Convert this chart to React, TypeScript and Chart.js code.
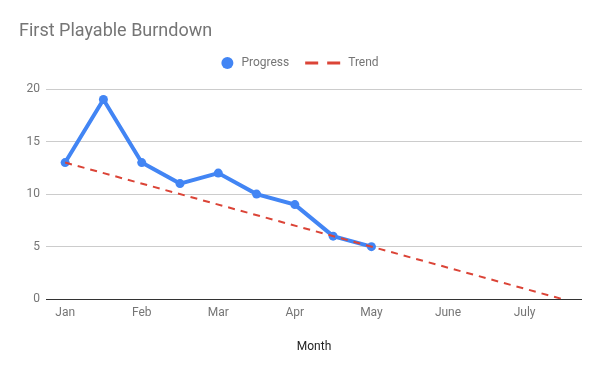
import React, { useEffect, useRef } from "react";
import { Chart, registerables } from "chart.js";

Chart.register(...registerables);

const TITLE = "First Playable Burndown";
const X_TITLE = "Month";
const categories = ["Jan", "", "Feb", "", "Mar", "", "Apr", "", "May", "", "June", "", "July", ""];
const progress = [13, 19, 13, 11, 12, 10, 9, 6, 5];
const trend = [13, null, null, null, null, null, null, null, null, null, null, null, null, 0];
const yTicks = [0, 5, 10, 15, 20];
const seriesNames = ["Progress", "Trend"];

const BLUE = "#4285F4";
const RED = "#DB4437";
const GRAY = "#757575";
const FONT = "Roboto";

const headerPlugin = {
  id: "header",
  afterDraw(chart: any) {
    const ctx = chart.ctx as CanvasRenderingContext2D;
    ctx.save();
    ctx.textBaseline = "middle";
    ctx.textAlign = "left";
    ctx.font = `18px ${FONT}`;
    ctx.fillStyle = GRAY;
    ctx.fillText(TITLE, 19, 31);

    ctx.font = `12px ${FONT}`;
    const y = 63;
    const w1 = ctx.measureText(seriesNames[0]).width;
    const w2 = ctx.measureText(seriesNames[1]).width;
    const total = 12 + 8 + w1 + 16 + 35 + 8 + w2;
    let x = (chart.width - total) / 2;
    ctx.fillStyle = BLUE;
    ctx.beginPath();
    ctx.arc(x + 6, y, 6, 0, Math.PI * 2);
    ctx.fill();
    x += 20;
    ctx.fillStyle = GRAY;
    ctx.fillText(seriesNames[0], x, y);
    x += w1 + 16;
    ctx.strokeStyle = RED;
    ctx.lineWidth = 3;
    ctx.setLineDash([13, 9]);
    ctx.beginPath();
    ctx.moveTo(x, y);
    ctx.lineTo(x + 35, y);
    ctx.stroke();
    ctx.setLineDash([]);
    x += 43;
    ctx.fillText(seriesNames[1], x, y);
    ctx.restore();
  },
};

export default function App() {
  const ref = useRef<HTMLCanvasElement>(null);
  useEffect(() => {
    if (!ref.current) return;
    const chart = new Chart(ref.current, {
      type: "line",
      data: {
        labels: categories,
        datasets: [
          {
            label: seriesNames[1],
            data: trend,
            borderColor: RED,
            borderWidth: 2,
            borderDash: [7, 6],
            pointRadius: 0,
            spanGaps: true,
            fill: false,
            order: 0,
          },
          {
            label: seriesNames[0],
            data: progress,
            borderColor: BLUE,
            backgroundColor: BLUE,
            borderWidth: 4,
            pointRadius: 4.5,
            pointBackgroundColor: BLUE,
            pointBorderWidth: 0,
            fill: false,
            order: 1,
          },
        ],
      },
      options: {
        responsive: false,
        animation: false,
        layout: { padding: { top: 89, right: 18, left: 0, bottom: 8 } },
        plugins: {
          legend: { display: false },
          title: { display: false },
          tooltip: { enabled: false },
        },
        scales: {
          x: {
            type: "category",
            offset: true,
            grid: { display: false, drawTicks: false },
            border: { display: false },
            ticks: {
              autoSkip: false,
              maxRotation: 0,
              padding: 7,
              color: GRAY,
              font: { family: FONT, size: 12 },
            },
            title: {
              display: true,
              text: X_TITLE,
              color: "#222222",
              font: { family: FONT, size: 12 },
              padding: { top: 12, bottom: 9 },
            },
          },
          y: {
            min: 0,
            max: 20,
            afterBuildTicks: (scale: any) => {
              scale.ticks = yTicks.map((v) => ({ value: v }));
            },
            afterFit: (scale: any) => {
              scale.width = 46;
            },
            grid: {
              drawTicks: false,
              color: (c: any) => (c.tick && c.tick.value === 0 ? "#333333" : "#CCCCCC"),
              lineWidth: 1,
            },
            border: { display: false },
            ticks: {
              padding: 6,
              color: GRAY,
              font: { family: FONT, size: 12 },
            },
          },
        },
      },
      plugins: [headerPlugin],
    });
    return () => chart.destroy();
  }, []);
  return (
    <div style={{ position: "absolute", left: 0, top: 0, width: 600, height: 371, background: "#fff" }}>
      <canvas ref={ref} width={600} height={371} />
    </div>
  );
}
